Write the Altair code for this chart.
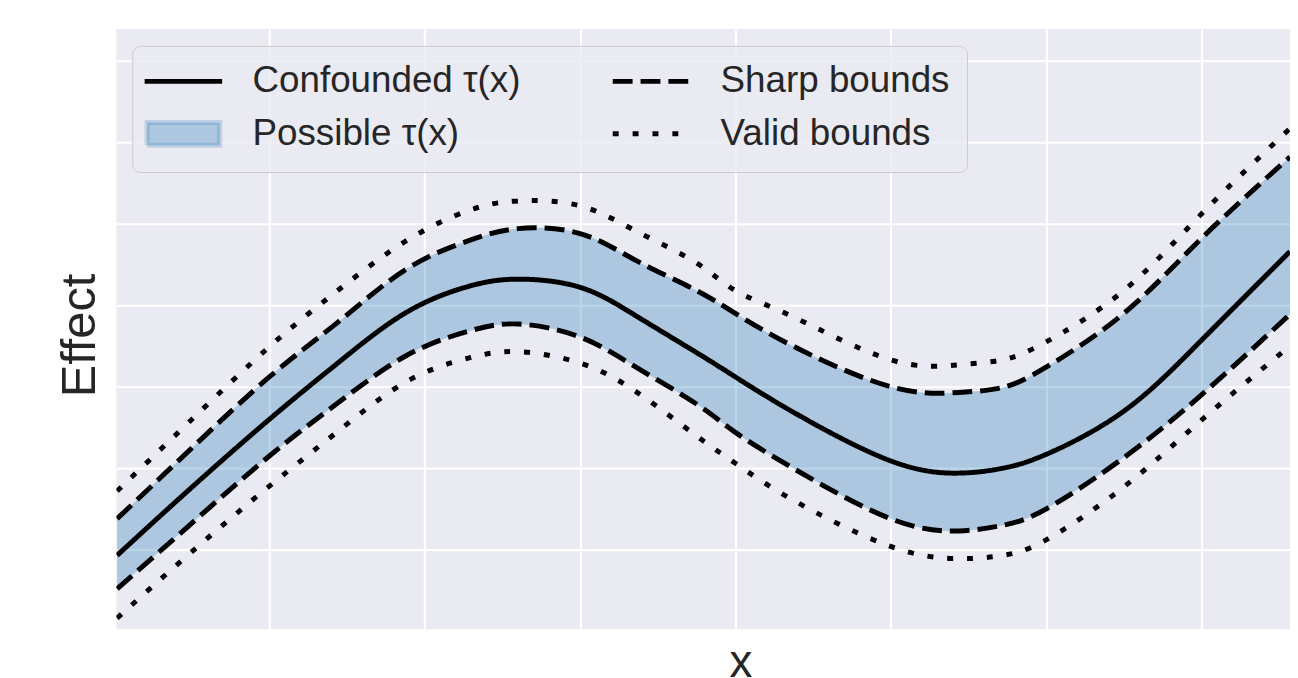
import altair as alt
import pandas as pd

# ---- data ----
x_vals = [-1.99, -1.76, -1.50, -1.28, -1.06, -0.86, -0.70, -0.50, -0.32, -0.13,
          0.00, 0.19, 0.50, 0.72, 0.86, 1.00, 1.25, 1.50, 1.785]
tau_confounded = [-2.07, -1.27, -0.40, 0.29, 0.91, 1.23, 1.32, 1.22, 0.87, 0.43,
                  0.12, -0.32, -0.91, -1.06, -1.00, -0.83, -0.30, 0.57, 1.66]
sharp_upper = [-1.62, -0.79, 0.12, 0.79, 1.44, 1.79, 1.94, 1.88, 1.55, 1.19,
               0.90, 0.49, 0.00, -0.07, -0.01, 0.24, 0.90, 1.82, 2.82]
sharp_lower = [-2.48, -1.71, -0.85, -0.20, 0.38, 0.68, 0.77, 0.61, 0.24, -0.20,
               -0.56, -1.01, -1.62, -1.77, -1.70, -1.50, -0.87, -0.10, 0.89]
valid_upper = [-1.28, -0.44, 0.49, 1.18, 1.79, 2.16, 2.28, 2.22, 1.91, 1.53,
               1.18, 0.85, 0.33, 0.27, 0.33, 0.55, 1.18, 2.12, 3.17]
valid_lower = [-2.84, -2.06, -1.22, -0.55, 0.06, 0.35, 0.43, 0.29, -0.06, -0.59,
               -0.94, -1.40, -1.96, -2.11, -2.07, -1.88, -1.23, -0.41, 0.50]

# legend entries (filled column by column: col 1 = first two, col 2 = last two)
series_names = ["Confounded τ(x)", "Possible τ(x)", "Sharp bounds", "Valid bounds"]
series_stroke = ["black", "rgba(31,119,180,0.22)", "black", "black"]
series_fill = ["transparent", "rgba(31,119,180,0.3)", "transparent", "transparent"]
series_dashes = [[1, 0], [1, 0], [20, 8], [6, 14]]
LINE_SYM = "M-3,0L3,0"
PATCH_SYM = "M-2.81,-0.88L2.81,-0.88L2.81,0.88L-2.81,0.88Z"
series_shapes = [LINE_SYM, PATCH_SYM, LINE_SYM, LINE_SYM]

x_grid = [-1.5, -1.0, -0.5, 0.0, 0.5, 1.0, 1.5]
y_grid = [-2, -1, 0, 1, 2, 3, 4]
x_domain = [-1.9925, 1.785]
y_domain = [-2.9756, 4.3902]

# ---- tables ----
rows = []
for name, side, ys in [
    ("Confounded τ(x)", "mid", tau_confounded),
    ("Sharp bounds", "upper", sharp_upper),
    ("Sharp bounds", "lower", sharp_lower),
    ("Valid bounds", "upper", valid_upper),
    ("Valid bounds", "lower", valid_lower),
]:
    for xv, yv in zip(x_vals, ys):
        rows.append({"x": xv, "y": yv, "kind": name, "side": side})
lines_df = pd.DataFrame(rows)

band_df = pd.DataFrame({"x": x_vals, "lo": sharp_lower, "hi": sharp_upper})

xscale = alt.Scale(domain=x_domain, nice=False, zero=False)
yscale = alt.Scale(domain=y_domain, nice=False, zero=False)
xaxis = alt.Axis(values=x_grid, title="x", titleX=628, titlePadding=12)
yaxis = alt.Axis(values=y_grid, title="Effect", titlePadding=12, titleY=308,
                 titleFontSize=49)
X = alt.X("x:Q", scale=xscale, axis=xaxis)
Y = alt.Y("y:Q", scale=yscale, axis=yaxis)

legend = alt.Legend(
    title=None, orient="none", legendX=16, legendY=17, columns=2,
    direction="vertical",
    labelFont="Liberation Sans", labelFontSize=37, labelColor="#262626",
    labelLimit=600, labelOffset=51, symbolOffset=16,
    symbolSize=676, symbolStrokeWidth=5,
    symbolFillColor="transparent", symbolStrokeColor="black",
    symbolOpacity=1, rowPadding=13, columnPadding=82, padding=17,
    fillColor="rgba(234,234,242,0.8)", strokeColor="#cccccc", cornerRadius=8,
)

band = alt.Chart(band_df).mark_area(
    interpolate="natural", clip=True, color="#1f77b4", opacity=0.3
).encode(x=X, y=alt.Y("lo:Q", scale=yscale, axis=yaxis), y2="hi:Q")


def curve(kind, dash):
    return alt.Chart(lines_df).transform_filter(
        alt.FieldEqualPredicate(field="kind", equal=kind)
    ).mark_line(
        interpolate="natural", clip=True, strokeCap="butt", strokeWidth=5,
        color="black", strokeDash=dash,
    ).encode(x=X, y=Y, detail="side:N")


solid = curve("Confounded τ(x)", [1, 0])
sharp = curve("Sharp bounds", [20, 8])
valid = curve("Valid bounds", [6, 14])

# an empty point layer that only carries the legend (shape / fill / stroke / dash)
legend_layer = alt.Chart(lines_df).transform_filter("false").mark_point(
    strokeWidth=5
).encode(
    x=X,
    y=Y,
    shape=alt.Shape("kind:N", scale=alt.Scale(domain=series_names, range=series_shapes),
                    legend=legend),
    fill=alt.Fill("kind:N", scale=alt.Scale(domain=series_names, range=series_fill),
                  legend=legend),
    stroke=alt.Stroke("kind:N", scale=alt.Scale(domain=series_names, range=series_stroke),
                      legend=legend),
    strokeDash=alt.StrokeDash("kind:N", scale=alt.Scale(domain=series_names, range=series_dashes),
                              legend=legend),
)

chart = alt.layer(band, solid, sharp, valid, legend_layer).properties(
    width=1181, height=604, autosize="none",
    padding={"left": 109, "top": 19, "right": 0, "bottom": 47},
    background="white",
).configure_view(fill="#EAEAF2", stroke=None).configure_axis(
    grid=True, gridColor="white", gridWidth=2.2, domain=False, ticks=False,
    labels=False, titleFont="Liberation Sans", titleFontSize=46,
    titleColor="#262626", titleFontWeight="normal",
)

chart.save("out.html", embed_options={"renderer": "svg", "actions": False})
